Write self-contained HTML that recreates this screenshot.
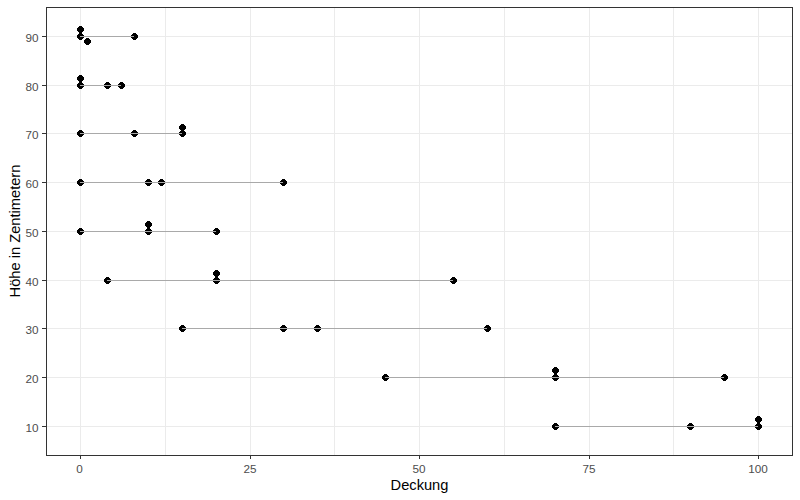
<!DOCTYPE html><html><head><meta charset="utf-8"><title>plot</title><style>
html,body{margin:0;padding:0;background:#fff;}body{width:800px;height:500px;overflow:hidden;font-family:"Liberation Sans",sans-serif;}svg{display:block;}
</style></head><body>
<svg width="800" height="500" viewBox="0 0 800 500" role="img" aria-label="Deckung vs Höhe in Zentimetern">
<rect x="0" y="0" width="800" height="500" fill="#fff"/>
<g fill="#EBEBEB" shape-rendering="crispEdges">
<rect x="80" y="7" width="1" height="448"/>
<rect x="165" y="7" width="1" height="448"/>
<rect x="250" y="7" width="1" height="448"/>
<rect x="334" y="7" width="1" height="448"/>
<rect x="419" y="7" width="1" height="448"/>
<rect x="504" y="7" width="1" height="448"/>
<rect x="589" y="7" width="1" height="448"/>
<rect x="673" y="7" width="1" height="448"/>
<rect x="758" y="7" width="1" height="448"/>
<rect x="46" y="36" width="746" height="1"/>
<rect x="46" y="85" width="746" height="1"/>
<rect x="46" y="133" width="746" height="1"/>
<rect x="46" y="182" width="746" height="1"/>
<rect x="46" y="231" width="746" height="1"/>
<rect x="46" y="280" width="746" height="1"/>
<rect x="46" y="328" width="746" height="1"/>
<rect x="46" y="377" width="746" height="1"/>
<rect x="46" y="426" width="746" height="1"/>
</g>
<g fill="#000" shape-rendering="crispEdges">
<path d="M79 33h3v1h1v1h1v3h-1v1h-1v1h-3v-1h-1v-1h-1v-3h1v-1h1z"/>
<path d="M79 26h3v1h1v1h1v3h-1v1h-1v1h-3v-1h-1v-1h-1v-3h1v-1h1z"/>
<path d="M86 38h3v1h1v1h1v3h-1v1h-1v1h-3v-1h-1v-1h-1v-3h1v-1h1z"/>
<path d="M133 33h3v1h1v1h1v3h-1v1h-1v1h-3v-1h-1v-1h-1v-3h1v-1h1z"/>
<path d="M79 82h3v1h1v1h1v3h-1v1h-1v1h-3v-1h-1v-1h-1v-3h1v-1h1z"/>
<path d="M79 75h3v1h1v1h1v3h-1v1h-1v1h-3v-1h-1v-1h-1v-3h1v-1h1z"/>
<path d="M106 82h3v1h1v1h1v3h-1v1h-1v1h-3v-1h-1v-1h-1v-3h1v-1h1z"/>
<path d="M120 82h3v1h1v1h1v3h-1v1h-1v1h-3v-1h-1v-1h-1v-3h1v-1h1z"/>
<path d="M79 130h3v1h1v1h1v3h-1v1h-1v1h-3v-1h-1v-1h-1v-3h1v-1h1z"/>
<path d="M133 130h3v1h1v1h1v3h-1v1h-1v1h-3v-1h-1v-1h-1v-3h1v-1h1z"/>
<path d="M181 130h3v1h1v1h1v3h-1v1h-1v1h-3v-1h-1v-1h-1v-3h1v-1h1z"/>
<path d="M181 124h3v1h1v1h1v3h-1v1h-1v1h-3v-1h-1v-1h-1v-3h1v-1h1z"/>
<path d="M79 179h3v1h1v1h1v3h-1v1h-1v1h-3v-1h-1v-1h-1v-3h1v-1h1z"/>
<path d="M147 179h3v1h1v1h1v3h-1v1h-1v1h-3v-1h-1v-1h-1v-3h1v-1h1z"/>
<path d="M160 179h3v1h1v1h1v3h-1v1h-1v1h-3v-1h-1v-1h-1v-3h1v-1h1z"/>
<path d="M282 179h3v1h1v1h1v3h-1v1h-1v1h-3v-1h-1v-1h-1v-3h1v-1h1z"/>
<path d="M79 228h3v1h1v1h1v3h-1v1h-1v1h-3v-1h-1v-1h-1v-3h1v-1h1z"/>
<path d="M147 228h3v1h1v1h1v3h-1v1h-1v1h-3v-1h-1v-1h-1v-3h1v-1h1z"/>
<path d="M147 221h3v1h1v1h1v3h-1v1h-1v1h-3v-1h-1v-1h-1v-3h1v-1h1z"/>
<path d="M215 228h3v1h1v1h1v3h-1v1h-1v1h-3v-1h-1v-1h-1v-3h1v-1h1z"/>
<path d="M106 277h3v1h1v1h1v3h-1v1h-1v1h-3v-1h-1v-1h-1v-3h1v-1h1z"/>
<path d="M215 277h3v1h1v1h1v3h-1v1h-1v1h-3v-1h-1v-1h-1v-3h1v-1h1z"/>
<path d="M215 270h3v1h1v1h1v3h-1v1h-1v1h-3v-1h-1v-1h-1v-3h1v-1h1z"/>
<path d="M452 277h3v1h1v1h1v3h-1v1h-1v1h-3v-1h-1v-1h-1v-3h1v-1h1z"/>
<path d="M181 325h3v1h1v1h1v3h-1v1h-1v1h-3v-1h-1v-1h-1v-3h1v-1h1z"/>
<path d="M282 325h3v1h1v1h1v3h-1v1h-1v1h-3v-1h-1v-1h-1v-3h1v-1h1z"/>
<path d="M316 325h3v1h1v1h1v3h-1v1h-1v1h-3v-1h-1v-1h-1v-3h1v-1h1z"/>
<path d="M486 325h3v1h1v1h1v3h-1v1h-1v1h-3v-1h-1v-1h-1v-3h1v-1h1z"/>
<path d="M384 374h3v1h1v1h1v3h-1v1h-1v1h-3v-1h-1v-1h-1v-3h1v-1h1z"/>
<path d="M554 374h3v1h1v1h1v3h-1v1h-1v1h-3v-1h-1v-1h-1v-3h1v-1h1z"/>
<path d="M554 367h3v1h1v1h1v3h-1v1h-1v1h-3v-1h-1v-1h-1v-3h1v-1h1z"/>
<path d="M723 374h3v1h1v1h1v3h-1v1h-1v1h-3v-1h-1v-1h-1v-3h1v-1h1z"/>
<path d="M554 423h3v1h1v1h1v3h-1v1h-1v1h-3v-1h-1v-1h-1v-3h1v-1h1z"/>
<path d="M689 423h3v1h1v1h1v3h-1v1h-1v1h-3v-1h-1v-1h-1v-3h1v-1h1z"/>
<path d="M757 423h3v1h1v1h1v3h-1v1h-1v1h-3v-1h-1v-1h-1v-3h1v-1h1z"/>
<path d="M757 416h3v1h1v1h1v3h-1v1h-1v1h-3v-1h-1v-1h-1v-3h1v-1h1z"/>
</g>
<g fill="#A9A9A9" shape-rendering="crispEdges">
<rect x="80" y="36" width="54" height="1"/>
<rect x="80" y="85" width="41" height="1"/>
<rect x="80" y="133" width="102" height="1"/>
<rect x="80" y="182" width="203" height="1"/>
<rect x="80" y="231" width="136" height="1"/>
<rect x="107" y="280" width="346" height="1"/>
<rect x="182" y="328" width="305" height="1"/>
<rect x="385" y="377" width="339" height="1"/>
<rect x="555" y="426" width="203" height="1"/>
</g>
<g fill="#333333" shape-rendering="crispEdges">
<rect x="46" y="7" width="747" height="1"/>
<rect x="46" y="455" width="747" height="1"/>
<rect x="46" y="7" width="1" height="449"/>
<rect x="792" y="7" width="1" height="449"/>
<rect x="80" y="456" width="1" height="3"/>
<rect x="250" y="456" width="1" height="3"/>
<rect x="419" y="456" width="1" height="3"/>
<rect x="589" y="456" width="1" height="3"/>
<rect x="758" y="456" width="1" height="3"/>
<rect x="42" y="36" width="4" height="1"/>
<rect x="42" y="85" width="4" height="1"/>
<rect x="42" y="133" width="4" height="1"/>
<rect x="42" y="182" width="4" height="1"/>
<rect x="42" y="231" width="4" height="1"/>
<rect x="42" y="280" width="4" height="1"/>
<rect x="42" y="328" width="4" height="1"/>
<rect x="42" y="377" width="4" height="1"/>
<rect x="42" y="426" width="4" height="1"/>
</g>
<g font-family="'Liberation Sans', sans-serif" font-size="11.73px" fill="#4D4D4D">
<text x="79.5" y="473" text-anchor="middle">0</text>
<text x="250" y="473" text-anchor="middle">25</text>
<text x="419" y="473" text-anchor="middle">50</text>
<text x="589" y="473" text-anchor="middle">75</text>
<text x="758" y="473" text-anchor="middle">100</text>
<text x="38.5" y="42" text-anchor="end">90</text>
<text x="38.5" y="91" text-anchor="end">80</text>
<text x="38.5" y="139" text-anchor="end">70</text>
<text x="38.5" y="188" text-anchor="end">60</text>
<text x="38.5" y="237" text-anchor="end">50</text>
<text x="38.5" y="286" text-anchor="end">40</text>
<text x="38.5" y="334" text-anchor="end">30</text>
<text x="38.5" y="383" text-anchor="end">20</text>
<text x="38.5" y="432" text-anchor="end">10</text>
</g>
<g font-family="'Liberation Sans', sans-serif" font-size="14.67px" fill="#000">
<text x="419.5" y="490" text-anchor="middle">Deckung</text>
<text transform="translate(20,231) rotate(-90)" text-anchor="middle">Höhe in Zentimetern</text>
</g>
</svg></body></html>
